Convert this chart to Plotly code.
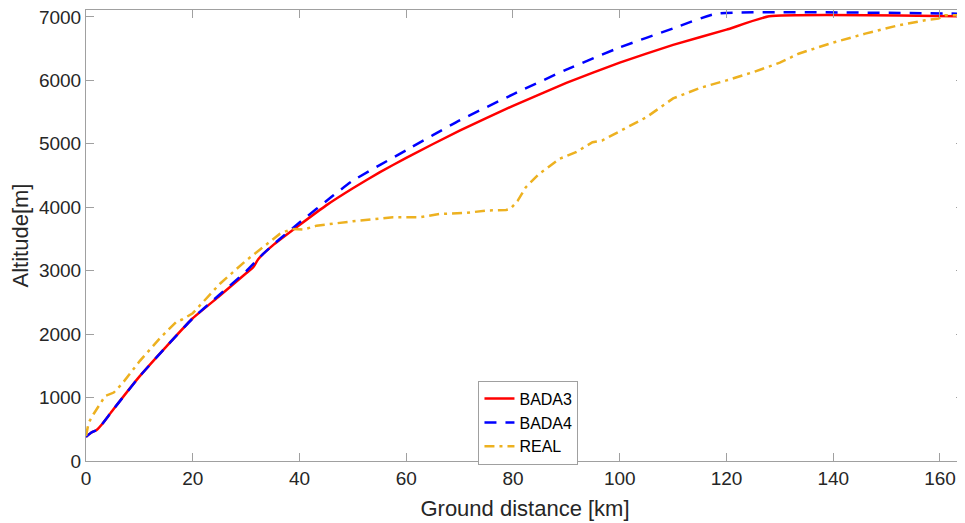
import plotly.graph_objects as go

# BADA3 profile
bada3_x = [0, 1, 2, 3, 5, 10, 15, 20, 25, 30, 31.3, 32.3, 35, 40, 45, 50, 55, 60, 70, 80, 90, 100, 110, 120, 128, 165]
bada3_y = [380, 450, 490, 580, 800, 1330, 1800, 2250, 2600, 2960, 3050, 3185, 3400, 3720, 4030, 4300, 4550, 4780, 5210, 5600, 5960, 6280, 6560, 6800, 7010, 7010]

# BADA4 profile
bada4_x = [0, 1, 2, 3, 5, 10, 15, 20, 25, 30, 33, 36.3, 40, 46.3, 50, 60, 70, 80, 90, 100, 110, 118, 165]
bada4_y = [380, 450, 490, 580, 800, 1330, 1800, 2250, 2620, 2990, 3250, 3500, 3760, 4184, 4420, 4900, 5370, 5780, 6170, 6520, 6820, 7050, 7050]

# REAL profile
real_x = [0, 0.5, 1.4, 3.6, 5.2, 6.7, 10.1, 14, 17, 18, 20, 25.1, 30, 32, 36.3, 38.5, 40.7, 43.2, 50, 57.5, 62.5, 66.2, 71.2, 75, 78.7, 79.5,
          80.9, 82.4, 84.9, 86.2, 88.7, 91.8, 94.9, 96.7, 100, 105, 110, 115, 120, 125, 130, 133.5, 139.7, 146, 152.2, 157.2, 159.7, 160.9, 165]
real_y = [395, 605, 737, 1026, 1079, 1211, 1579, 1950, 2200, 2230, 2330, 2795, 3160, 3290, 3580, 3658, 3647, 3710, 3779, 3842, 3842, 3895, 3911, 3948, 3958, 3975,
          4105, 4316, 4527, 4606, 4764, 4868, 5026, 5053, 5200, 5420, 5716, 5880, 6000, 6130, 6280, 6421, 6590, 6737, 6868, 6948, 6974, 7026, 7026]

x_ticks = [0, 20, 40, 60, 80, 100, 120, 140, 160]
y_ticks = [0, 1000, 2000, 3000, 4000, 5000, 6000, 7000]

FONT = "Liberation Sans, Arial"

fig = go.Figure()
fig.add_trace(go.Scatter(x=bada3_x, y=bada3_y, mode="lines", name="BADA3",
                         line=dict(color="#FF0000", width=2.5, shape="spline", smoothing=0.4)))
fig.add_trace(go.Scatter(x=bada4_x, y=bada4_y, mode="lines", name="BADA4",
                         line=dict(color="#0000FF", width=2.5, dash="12px,9px", shape="spline", smoothing=0.4)))
fig.add_trace(go.Scatter(x=real_x, y=real_y, mode="lines", name="REAL",
                         line=dict(color="#EDB120", width=2.5, dash="10px,5px,3px,5px")))

axis_common = dict(showgrid=False, zeroline=False, showline=True, linecolor="#A0A0A0", linewidth=1,
                   mirror="ticks", ticks="inside", ticklen=8, tickcolor="#A0A0A0", automargin=False,
                   ticklabeloverflow="allow",
                   tickfont=dict(family=FONT, size=19, color="#262626"))

fig.update_layout(
    width=957, height=515,
    margin=dict(l=78, r=1, t=2, b=62),
    paper_bgcolor="white", plot_bgcolor="white",
    xaxis=dict(range=[0, 164.5], tickvals=x_ticks,
               title=dict(text="Ground distance [km]", standoff=12,
                          font=dict(family=FONT, size=22, color="#262626")),
               **axis_common),
    yaxis=dict(range=[0, 7110], tickvals=y_ticks,
               title=dict(text="Altitude[m]", standoff=6,
                          font=dict(family=FONT, size=22, color="#262626")),
               **axis_common),
    legend=dict(x=0.447, y=0.178, xanchor="left", yanchor="top",
                bgcolor="white", bordercolor="#A0A0A0", borderwidth=1,
                font=dict(family=FONT, size=16, color="#000000"),
                tracegroupgap=0, itemwidth=30),
    showlegend=True,
)

fig.write_html("out.html")
